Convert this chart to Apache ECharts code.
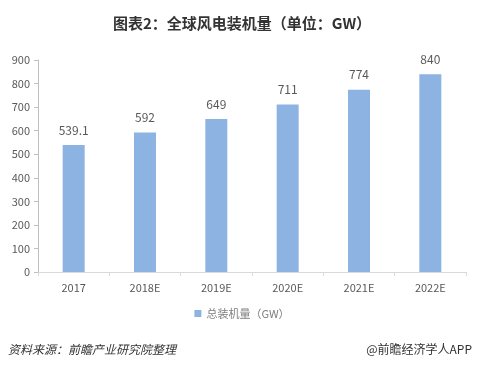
<!DOCTYPE html>
<html><head><meta charset="utf-8">
<script src="https://cdn.jsdelivr.net/npm/echarts@6/dist/echarts.min.js"></script>
<style>html,body{margin:0;padding:0;background:#fff}#c{width:484px;height:373px}</style>
</head><body><div id="c"></div>
<script>
const categories = ['2017','2018E','2019E','2020E','2021E','2022E'];
const values = [539.1, 592, 649, 711, 774, 840];
const valueLabels = ['539.1','592','649','711','774','840'];
const seriesName = '总装机量（GW）';
const titleText = '图表2：全球风电装机量（单位：GW）';
const sourceText = '资料来源：前瞻产业研究院整理';
const brandText = '@前瞻经济学人APP';

const font = '"Noto Sans CJK SC", "Noto Sans", sans-serif';
const chart = echarts.init(document.getElementById('c'), null, {renderer:'canvas'});
chart.setOption({
  animation:false,
  backgroundColor:'#fff',
  textStyle:{fontFamily:font},
  title:{text:titleText,left:'center',top:11,textStyle:{fontSize:15,fontWeight:'bold',color:'#333',fontFamily:font}},
  legend:{data:[seriesName],bottom:49,left:'center',itemWidth:7,itemHeight:7,icon:'rect',itemGap:4,
    textStyle:{color:'#7f7f7f',fontSize:11,fontFamily:font}},
  grid:{left:38,right:18,top:60,bottom:101,containLabel:false},
  xAxis:{type:'category',data:categories,
    axisLine:{lineStyle:{color:'#d9d9d9'}},
    axisTick:{show:true,alignWithLabel:false,length:4,lineStyle:{color:'#d9d9d9'}},
    axisLabel:{color:'#595959',fontSize:11,margin:10,fontFamily:font}},
  yAxis:{type:'value',min:0,max:900,interval:100,
    axisLine:{show:true,lineStyle:{color:'#bfbfbf'}},
    axisTick:{show:true,length:4,lineStyle:{color:'#bfbfbf'}},
    splitLine:{show:false},
    axisLabel:{color:'#595959',fontSize:11,margin:8,fontFamily:font}},
  series:[{name:seriesName,type:'bar',data:values,barWidth:22,
    itemStyle:{color:'#8db3e2'},
    label:{show:true,position:'top',distance:9,color:'#595959',fontSize:12,fontFamily:font,
      formatter:p=>valueLabels[p.dataIndex]}}],
  graphic:[
    {type:'text',left:8,top:343,style:{text:sourceText,fill:'#333',fontSize:12,fontStyle:'italic',fontFamily:font}},
    {type:'text',right:12,top:343,style:{text:brandText,fill:'#333',fontSize:12,fontFamily:font}}
  ]
});
</script></body></html>
